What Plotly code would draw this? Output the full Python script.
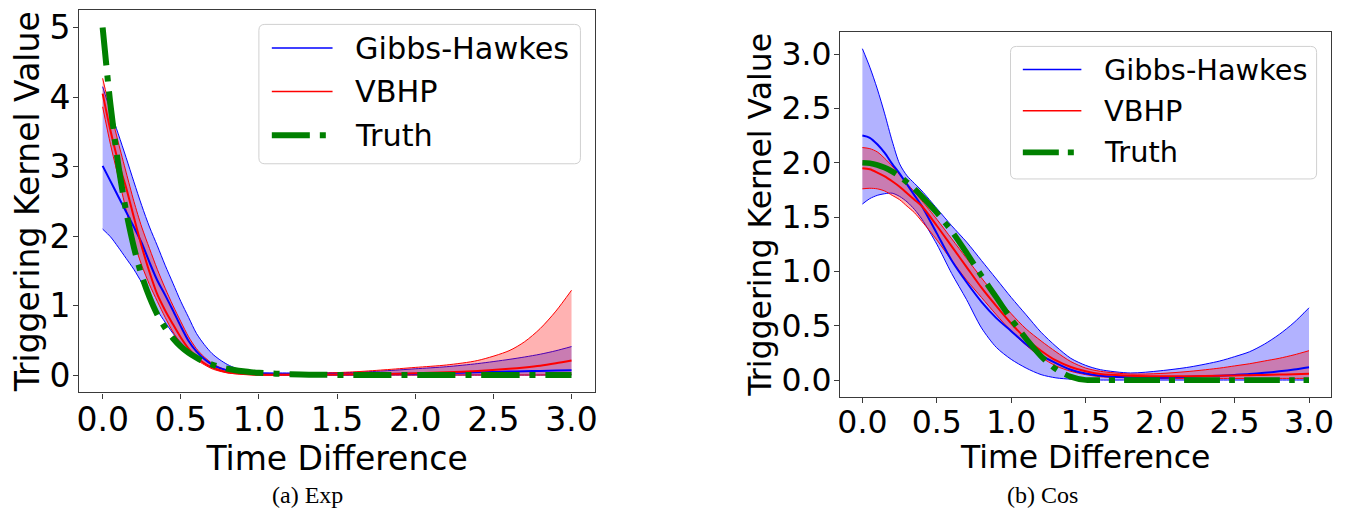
import plotly.graph_objects as go

# page body has an 8px margin; the figure is sized to fit inside the 1351x519 window
OFF = 8
W, H = 1351 - 2 * OFF, 519 - 2 * OFF

# ---------------- data: panel (a) Exp ----------------
x_exp = [0, 0.05, 0.1, 0.15, 0.2, 0.25, 0.3, 0.35, 0.4, 0.45, 0.5, 0.55, 0.6, 0.65, 0.7, 0.75, 0.8, 0.85,
         0.9, 0.95, 1.0, 1.2, 1.4, 1.6, 1.8, 2.0, 2.2, 2.4, 2.6, 2.7, 2.8, 2.9, 3.0]
exp_truth = [5.0, 3.89, 3.03, 2.36, 1.84, 1.43, 1.12, 0.87, 0.68, 0.53, 0.41, 0.32, 0.25, 0.19, 0.15, 0.115,
             0.09, 0.07, 0.055, 0.042, 0.033, 0.012, 0.004, 0.0, 0.0, 0.0, 0.0, 0.0, 0.0, 0.0, 0.0, 0.0, 0.0]
exp_gh_mean = [3.01, 2.79, 2.57, 2.35, 2.13, 1.9, 1.62, 1.36, 1.15, 0.93, 0.7, 0.49, 0.34, 0.23, 0.15, 0.1,
               0.065, 0.045, 0.03, 0.02, 0.015, 0.01, 0.01, 0.012, 0.016, 0.02, 0.03, 0.04, 0.05, 0.055,
               0.06, 0.065, 0.07]
exp_gh_upper = [4.15, 3.8, 3.47, 3.13, 2.78, 2.44, 2.13, 1.86, 1.58, 1.32, 1.06, 0.83, 0.6, 0.44, 0.31, 0.22,
                0.15, 0.1, 0.065, 0.045, 0.035, 0.03, 0.032, 0.038, 0.06, 0.09, 0.12, 0.165, 0.225, 0.26,
                0.3, 0.35, 0.41]
exp_gh_lower = [2.10, 1.99, 1.84, 1.68, 1.52, 1.33, 1.12, 0.93, 0.76, 0.6, 0.47, 0.35, 0.25, 0.17, 0.11, 0.07,
                0.04, 0.025, 0.015, 0.008, 0.005, 0.0, 0.0, 0.0, 0.0, 0.0, 0.0, 0.0, 0.0, 0.0, 0.0, 0.0, 0.0]
exp_vb_mean = [4.05, 3.52, 3.07, 2.7, 2.27, 1.85, 1.48, 1.16, 0.93, 0.73, 0.54, 0.38, 0.26, 0.17, 0.11, 0.07,
               0.04, 0.025, 0.015, 0.008, 0.005, 0.005, 0.007, 0.011, 0.017, 0.025, 0.04, 0.06, 0.09, 0.11,
               0.135, 0.17, 0.21]
exp_vb_upper = [4.27, 3.8, 3.35, 2.92, 2.5, 2.13, 1.82, 1.52, 1.25, 1.0, 0.77, 0.55, 0.38, 0.26, 0.17, 0.11,
                0.07, 0.045, 0.03, 0.02, 0.015, 0.018, 0.028, 0.045, 0.075, 0.11, 0.145, 0.21, 0.35, 0.48,
                0.67, 0.92, 1.22]
exp_vb_lower = [3.86, 3.32, 2.85, 2.38, 1.92, 1.58, 1.3, 1.06, 0.83, 0.62, 0.46, 0.33, 0.22, 0.15, 0.09, 0.055,
                0.03, 0.018, 0.01, 0.005, 0.0, 0.0, 0.0, 0.0, 0.0, 0.0, 0.0, 0.0, 0.0, 0.0, 0.0, 0.005, 0.01]

# ---------------- data: panel (b) Cos ----------------
x_cos = [0, 0.05, 0.1, 0.15, 0.2, 0.25, 0.3, 0.35, 0.4, 0.5, 0.6, 0.7, 0.8, 0.9, 1.0, 1.1, 1.2, 1.3, 1.4,
         1.5, 1.6, 1.8, 2.0, 2.2, 2.4, 2.5, 2.6, 2.7, 2.8, 2.9, 3.0]
cos_truth = [2.0, 1.995, 1.98, 1.955, 1.92, 1.875, 1.82, 1.76, 1.69, 1.54, 1.37, 1.17, 0.96, 0.76, 0.56,
             0.38, 0.22, 0.1, 0.03, 0.0, 0.0, 0.0, 0.0, 0.0, 0.0, 0.0, 0.0, 0.0, 0.0, 0.0, 0.0]
cos_gh_mean = [2.25, 2.23, 2.17, 2.09, 1.99, 1.9, 1.8, 1.7, 1.6, 1.35, 1.1, 0.9, 0.72, 0.57, 0.45, 0.33,
               0.23, 0.155, 0.095, 0.06, 0.04, 0.025, 0.022, 0.03, 0.04, 0.047, 0.055, 0.066, 0.08, 0.097,
               0.118]
cos_gh_upper = [3.05, 2.88, 2.68, 2.45, 2.2, 1.99, 1.88, 1.81, 1.74, 1.58, 1.42, 1.27, 1.1, 0.93, 0.76, 0.6,
                0.44, 0.31, 0.2, 0.135, 0.095, 0.065, 0.085, 0.12, 0.175, 0.215, 0.26, 0.33, 0.42, 0.53,
                0.665]
cos_gh_lower = [1.62, 1.67, 1.7, 1.715, 1.72, 1.69, 1.64, 1.57, 1.48, 1.25, 0.98, 0.74, 0.48, 0.3, 0.19,
                0.11, 0.05, 0.02, 0.008, 0.003, 0.0, 0.0, 0.0, 0.0, 0.0, 0.0, 0.0, 0.0, 0.0, 0.0, 0.0]
cos_vb_mean = [1.95, 1.94, 1.91, 1.875, 1.83, 1.78, 1.72, 1.66, 1.6, 1.42, 1.23, 1.04, 0.85, 0.68, 0.52,
               0.38, 0.27, 0.18, 0.12, 0.08, 0.055, 0.04, 0.035, 0.035, 0.04, 0.042, 0.045, 0.047, 0.05,
               0.054, 0.058]
cos_vb_upper = [2.14, 2.13, 2.1, 2.04, 1.97, 1.89, 1.81, 1.73, 1.65, 1.48, 1.3, 1.12, 0.94, 0.77, 0.61,
                0.47, 0.36, 0.26, 0.17, 0.11, 0.08, 0.055, 0.06, 0.08, 0.11, 0.13, 0.15, 0.175, 0.2, 0.232,
                0.27]
cos_vb_lower = [1.76, 1.765, 1.76, 1.74, 1.7, 1.66, 1.6, 1.54, 1.46, 1.29, 1.1, 0.92, 0.76, 0.6, 0.45,
                0.32, 0.21, 0.13, 0.08, 0.05, 0.03, 0.02, 0.015, 0.015, 0.015, 0.015, 0.015, 0.015, 0.015,
                0.015, 0.015]

series_names = ["Gibbs-Hawkes", "VBHP", "Truth"]
x_ticks = [0.0, 0.5, 1.0, 1.5, 2.0, 2.5, 3.0]
y_ticks_exp = [0, 1, 2, 3, 4, 5]
y_ticks_cos = [0.0, 0.5, 1.0, 1.5, 2.0, 2.5, 3.0]
captions = ["(a) Exp", "(b) Cos"]
axis_title_x = "Time Difference"
axis_title_y = "Triggering Kernel Value"

BLUE = "#0000ff"
RED = "#ff0000"
GREEN = "#008000"
BLUE_FILL = "rgba(0,0,255,0.3)"
RED_FILL = "rgba(255,0,0,0.3)"
SPL = dict(shape="spline", smoothing=0.8)
DASH_A = "38px,10px,6px,10px"
DASH_B = "36px,9px,6px,9px"

fig = go.Figure()


def add_panel(xs, gh_lo, gh_up, gh_m, vb_lo, vb_up, vb_m, truth, xa, ya, dash, tw):
    fig.add_trace(go.Scatter(x=xs, y=gh_lo, mode="lines", line=dict(color=BLUE, width=1, **SPL),
                             xaxis=xa, yaxis=ya, showlegend=False, hoverinfo="skip"))
    fig.add_trace(go.Scatter(x=xs, y=gh_up, mode="lines", line=dict(color=BLUE, width=1, **SPL),
                             fill="tonexty", fillcolor=BLUE_FILL,
                             xaxis=xa, yaxis=ya, showlegend=False, hoverinfo="skip"))
    fig.add_trace(go.Scatter(x=xs, y=vb_lo, mode="lines", line=dict(color=RED, width=1, **SPL),
                             xaxis=xa, yaxis=ya, showlegend=False, hoverinfo="skip"))
    fig.add_trace(go.Scatter(x=xs, y=vb_up, mode="lines", line=dict(color=RED, width=1, **SPL),
                             fill="tonexty", fillcolor=RED_FILL,
                             xaxis=xa, yaxis=ya, showlegend=False, hoverinfo="skip"))
    fig.add_trace(go.Scatter(x=xs, y=gh_m, mode="lines", name=series_names[0],
                             line=dict(color=BLUE, width=2, **SPL),
                             xaxis=xa, yaxis=ya, showlegend=False))
    fig.add_trace(go.Scatter(x=xs, y=vb_m, mode="lines", name=series_names[1],
                             line=dict(color=RED, width=2, **SPL),
                             xaxis=xa, yaxis=ya, showlegend=False))
    fig.add_trace(go.Scatter(x=xs, y=truth, mode="lines", name=series_names[2],
                             line=dict(color=GREEN, width=tw, dash=dash, **SPL),
                             xaxis=xa, yaxis=ya, showlegend=False))


add_panel(x_exp, exp_gh_lower, exp_gh_upper, exp_gh_mean, exp_vb_lower, exp_vb_upper, exp_vb_mean,
          exp_truth, "x", "y", DASH_A, 6)
add_panel(x_cos, cos_gh_lower, cos_gh_upper, cos_gh_mean, cos_vb_lower, cos_vb_upper, cos_vb_mean,
          cos_truth, "x2", "y2", DASH_B, 5.7)

FONT = "DejaVu Sans"
SPINE = "#3a3a3a"
FS_A, FS_B = 33, 31.5
LEG_A, LEG_B = 30.3, 28.8


def axis(domain, rng, tickvals, fmt, fs, title, standoff, anchor, lab_off):
    return dict(domain=domain, range=rng, tickvals=tickvals, tickformat=fmt,
                showline=True, linecolor=SPINE, linewidth=1.2, mirror=True,
                ticks="outside", ticklen=5, tickwidth=1.2, tickcolor=SPINE,
                ticklabelstandoff=lab_off, ticklabeloverflow="allow",
                showgrid=False, zeroline=False, anchor=anchor,
                tickfont=dict(family=FONT, size=fs, color="black"),
                title=dict(text=title, font=dict(family=FONT, size=fs, color="black"), standoff=standoff))


def px(x):
    return (x - OFF) / W


def py(y):
    return 1 - (y - OFF) / H


layout = dict(
    width=W, height=H, margin=dict(l=0, r=0, t=0, b=0),
    paper_bgcolor="white", plot_bgcolor="white", showlegend=False,
    xaxis=axis([px(76.5), px(594.6)], [-0.15, 3.15], x_ticks, ".1f", FS_A, axis_title_x, 0, "y", -7),
    yaxis=axis([py(393.5), py(8.2)], [-0.25, 5.25], y_ticks_exp, "d", FS_A, axis_title_y, 0, "x", -4),
    xaxis2=axis([px(840.8), px(1334.3)], [-0.15, 3.15], x_ticks, ".1f", FS_B, axis_title_x, 0, "y2", -8),
    yaxis2=axis([py(397.7), py(30.3)], [-0.1525, 3.2025], y_ticks_cos, ".1f", FS_B, axis_title_y, 0, "x2", -4),
)
fig.update_layout(**layout)

shapes = []
annotations = []


def rounded_box(x0, y0, x1, y1, r=6):
    X0, X1 = px(x0), px(x1)
    Y0, Y1 = py(y0), py(y1)
    rx, ry = r / W, r / H
    path = (f"M {X0+rx},{Y0} L {X1-rx},{Y0} Q {X1},{Y0} {X1},{Y0-ry} "
            f"L {X1},{Y1+ry} Q {X1},{Y1} {X1-rx},{Y1} L {X0+rx},{Y1} Q {X0},{Y1} {X0},{Y1+ry} "
            f"L {X0},{Y0-ry} Q {X0},{Y0} {X0+rx},{Y0} Z")
    return dict(type="path", path=path, xref="paper", yref="paper",
                line=dict(color="#d0d0d0", width=1), fillcolor="rgba(255,255,255,0.8)", layer="above")


def legend(box, rows, sx0, sx1, tx, fs, dash, tw):
    shapes.append(rounded_box(*box))
    styles = [(BLUE, 1.5, "solid"), (RED, 1.5, "solid"), (GREEN, tw, dash)]
    for name, ry, (c, w, d) in zip(series_names, rows, styles):
        shapes.append(dict(type="line", xref="paper", yref="paper", x0=px(sx0), x1=px(sx1),
                           y0=py(ry), y1=py(ry), line=dict(color=c, width=w, dash=d), layer="above"))
        annotations.append(dict(text=name, x=px(tx), y=py(ry), xref="paper", yref="paper",
                                xanchor="left", yanchor="middle", showarrow=False,
                                font=dict(family=FONT, size=fs, color="black")))


legend((257, 22.5, 580, 163), (46.4, 90.2, 134.2), 270, 331, 352, LEG_A, DASH_A, 6)
legend((1012, 44.7, 1319.5, 178.3), (68, 109.5, 151.5), 1024.4, 1083.2, 1104, LEG_B, DASH_B, 5.7)

for cap, cx in zip(captions, (306, 1044.5)):
    annotations.append(dict(text=cap, x=px(cx), y=py(497), xref="paper", yref="paper",
                            xanchor="center", yanchor="middle", showarrow=False,
                            font=dict(family="Liberation Serif", size=24, color="black")))

fig.update_layout(shapes=shapes, annotations=annotations)
fig.write_html("out.html")
